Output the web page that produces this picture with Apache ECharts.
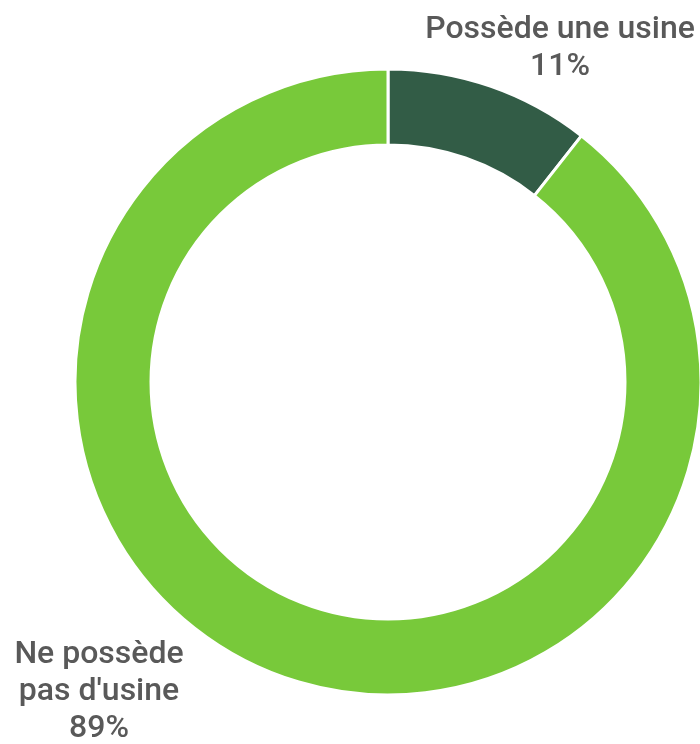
<!DOCTYPE html>
<html>
<head>
<meta charset="utf-8">
<script src="https://cdn.jsdelivr.net/npm/echarts@6/dist/echarts.min.js"></script>
<style>
html,body{margin:0;padding:0;background:#fff;}
#chart{width:700px;height:744px;}
</style>
</head>
<body>
<div id="chart"></div>
<script>
const categories = ["Possède une usine", "Ne possède\npas d'usine"];
const values = [10.6, 89.4];
const colors = ['#325c46', '#78c93a'];

const chart = echarts.init(document.getElementById('chart'), null, {renderer: 'canvas'});
const labelPos = [
  {x: 560, y: 48},
  {x: 99, y: 692}
];
chart.setOption({
  animation: false,
  series: [{
    type: 'pie',
    center: [388, 382],
    radius: [237, 313],
    startAngle: 90,
    clockwise: true,
    data: categories.map((c, i) => ({name: c, value: values[i], itemStyle: {color: colors[i]}})),
    itemStyle: {borderColor: '#ffffff', borderWidth: 3},
    label: {
      show: true,
      position: 'outside',
      formatter: p => p.name + '\n' + Math.round(p.value) + '%',
      fontFamily: 'Roboto',
      fontWeight: 500,
      fontSize: 32,
      lineHeight: 37,
      color: '#595959',
      align: 'center',
      overflow: 'none'
    },
    labelLine: {show: false},
    labelLayout: function (params) {
      const pos = labelPos[params.dataIndex];
      return {x: pos.x, y: pos.y, align: 'center', verticalAlign: 'middle'};
    },
    emphasis: {disabled: true}
  }]
});
</script>
</body>
</html>
